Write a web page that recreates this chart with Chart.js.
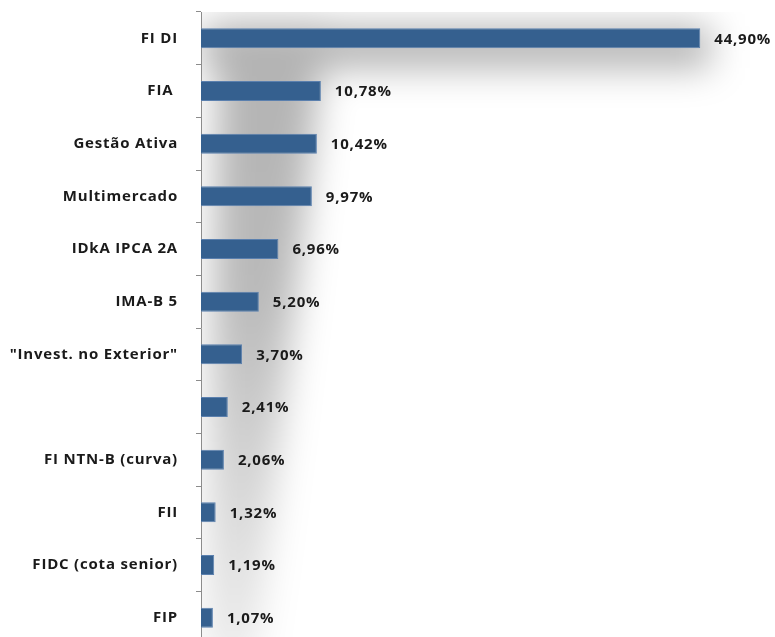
<!DOCTYPE html>
<html>
<head>
<meta charset="utf-8">
<script src="https://cdn.jsdelivr.net/npm/chart.js@4.4.1/dist/chart.umd.min.js"></script>
<style>
  html, body { margin: 0; padding: 0; background: #fff; overflow: hidden; }
  #wrap { position: relative; width: 775px; height: 652px; }
</style>
</head>
<body>
<div id="wrap"><canvas id="chartAlloc"></canvas></div>
<script>
// categories, top to bottom (one label is blank in the original)
const categories = ['FI DI', 'FIA ', 'Gestão Ativa', 'Multimercado', 'IDkA IPCA 2A', 'IMA-B 5',
    '"Invest. no Exterior"', '', 'FI NTN-B (curva)', 'FII', 'FIDC (cota senior)', 'FIP'];
const shares = [44.90, 10.78, 10.42, 9.97, 6.96, 5.20, 3.70, 2.41, 2.06, 1.32, 1.19, 1.07];
const axisMax = 50;

const barColor = '#35608f';
const labelFont = { family: '"Open Sans", sans-serif', size: 15, weight: 'bold' };

// soft grey glow behind the plot (Excel shadow look)
const glowPlugin = {
    id: 'glow',
    beforeDraw(chart) {
        chart.ctx.letterSpacing = '0.8px';
    },
    beforeDatasetsDraw(chart) {
        let ctx = chart.ctx;
        let a = chart.chartArea;
        let bar = chart.getDatasetMeta(0).data[0];
        ctx.save();
        ctx.beginPath();
        ctx.rect(a.left + 1, a.top, a.right - a.left + 30, a.bottom - a.top);
        ctx.clip();
        ctx.filter = 'blur(18px)';

        let g = ctx.createLinearGradient(0, a.top, 0, a.bottom);
        g.addColorStop(0, 'rgba(0,0,0,0.30)');
        g.addColorStop(0.45, 'rgba(0,0,0,0.27)');
        g.addColorStop(0.75, 'rgba(0,0,0,0.16)');
        g.addColorStop(1, 'rgba(0,0,0,0.08)');
        ctx.fillStyle = g;
        // one path so the two bands do not stack up
        ctx.beginPath();
        ctx.moveTo(a.left + 18, a.top + 10);
        ctx.lineTo(a.left + 125, a.top + 10);
        ctx.lineTo(a.left + 55, a.bottom + 20);
        ctx.lineTo(a.left + 4, a.bottom + 20);
        ctx.closePath();
        ctx.rect(a.left, bar.y - 12, bar.x - a.left + 10, 42);
        ctx.fill('nonzero');
        ctx.restore();
    }
};

// value labels to the right of each bar
const valueLabels = {
    id: 'valueLabels',
    afterDatasetsDraw(chart) {
        let ctx = chart.ctx;
        ctx.save();
        ctx.font = 'bold 15px "Open Sans", sans-serif';
        ctx.fillStyle = '#1a1a1a';
        ctx.textAlign = 'left';
        ctx.textBaseline = 'middle';
        chart.getDatasetMeta(0).data.forEach((bar, i) => {
            let txt = shares[i].toFixed(2).replace('.', ',') + '%';
            ctx.fillText(txt, bar.x + 14, bar.y + 1);
        });
        ctx.restore();
    }
};

let ctxAlloc = document.getElementById('chartAlloc').getContext('2d');

let chartAlloc = new Chart(ctxAlloc, {
    type: 'bar',
    data: {
        labels: categories,
        datasets: [{
            data: shares,
            backgroundColor: barColor,
            borderColor: '#5b80ae',
            borderWidth: 1,
            barPercentage: 0.38,
            categoryPercentage: 1
        }]
    },
    options: {
        indexAxis: 'y',
        responsive: true,
        maintainAspectRatio: false,
        animation: false,
        layout: { padding: { top: 12, bottom: 8, left: 0, right: 18 } },
        plugins: {
            legend: { display: false },
            tooltip: { enabled: false }
        },
        scales: {
            x: { display: false, min: 0, max: axisMax },
            y: {
                afterFit(scale) {
                    scale.width = 201;
                    scale.paddingTop = 0;
                    scale.paddingBottom = 0;
                },
                border: { display: true, color: '#8c8c8c', width: 1 },
                grid: { display: true, drawOnChartArea: false, drawTicks: true, tickLength: 5, color: '#8c8c8c', offset: true },
                ticks: { color: '#1a1a1a', font: labelFont, padding: 18 }
            }
        }
    },
    plugins: [glowPlugin, valueLabels]
});
</script>
</body>
</html>
